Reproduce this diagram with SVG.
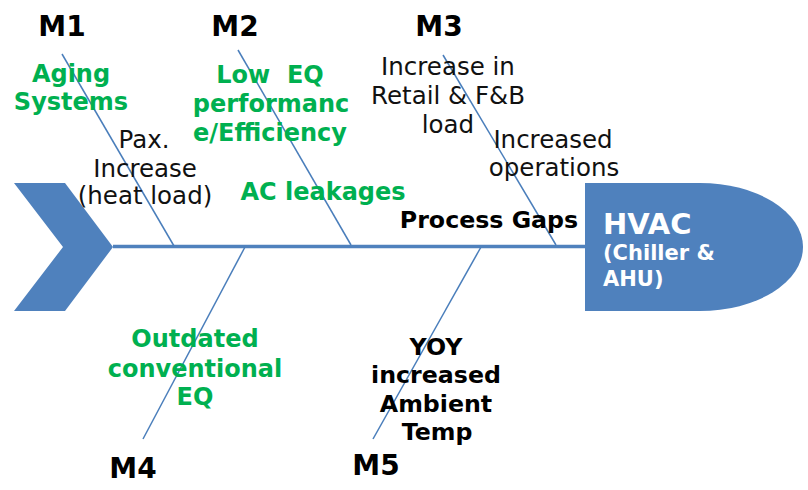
<svg xmlns="http://www.w3.org/2000/svg" width="808" height="490" viewBox="0 0 808 490">
<style>
text{font-family:"DejaVu Sans","Verdana",sans-serif;text-anchor:middle}
.m{font-size:28px;font-weight:bold;fill:#000}
.g{font-size:24px;font-weight:bold;fill:#00b050}
.k{font-size:24.5px;fill:#111}
.b{font-size:23.7px;font-weight:bold;fill:#000}
.bone{stroke:#4a7ebb;stroke-width:1.5;fill:none}
.shape{fill:#4f81bd}
.w{fill:#fff;font-weight:bold;text-anchor:start}
</style>
<rect width="808" height="490" fill="#fff"/>
<g id="connectors">
<line x1="113" y1="246.5" x2="586" y2="246.5" stroke="#4f81bd" stroke-width="3.5"/>
<line class="bone" x1="62" y1="54" x2="174" y2="246"/>
<line class="bone" x1="238" y1="50" x2="351" y2="245"/>
<line class="bone" x1="443" y1="55" x2="556" y2="245"/>
<line class="bone" x1="143" y1="439" x2="245" y2="247"/>
<line class="bone" x1="373" y1="439" x2="481" y2="247"/>
</g>
<g id="tail"><polygon class="shape" points="14,183 65,183 113,247 65,311 14,311 63,247"/></g>
<g id="head">
<path class="shape" d="M585,183 H700 A103,64 0 0 1 700,311 H585 Z"/>
<text class="w" x="603" y="234" font-size="29">HVAC</text>
<text class="w" x="603" y="260" font-size="21">(Chiller &amp;</text>
<text class="w" x="603" y="286" font-size="21">AHU)</text>
</g>
<g id="M1">
<text class="m" x="62" y="36">M1</text>
<text class="g" x="71" y="82">Aging</text>
<text class="g" x="71" y="110">Systems</text>
<text class="k" x="144" y="148">Pax.</text>
<text class="k" x="145" y="177">Increase</text>
<text class="k" x="145" y="204">(heat load)</text>
</g>
<g id="M2">
<text class="m" x="235" y="36">M2</text>
<text class="g" x="270" y="83" xml:space="preserve">Low  EQ</text>
<text class="g" x="271" y="112">performanc</text>
<text class="g" x="270" y="141">e/Efficiency</text>
<text class="g" x="323" y="200">AC leakages</text>
</g>
<g id="M3">
<text class="m" x="439" y="36">M3</text>
<text class="k" x="448" y="75">Increase in</text>
<text class="k" x="448" y="104">Retail &amp; F&amp;B</text>
<text class="k" x="448" y="133">load</text>
<text class="k" x="553" y="148">Increased</text>
<text class="k" x="554" y="176">operations</text>
<text class="b" x="489" y="228">Process Gaps</text>
</g>
<g id="M4">
<text class="m" x="133" y="478">M4</text>
<text class="g" x="195" y="347">Outdated</text>
<text class="g" x="195" y="377">conventional</text>
<text class="g" x="195" y="405">EQ</text>
</g>
<g id="M5">
<text class="m" x="376" y="475">M5</text>
<text class="b" x="436" y="355">YOY</text>
<text class="b" x="436" y="383">increased</text>
<text class="b" x="436" y="412">Ambient</text>
<text class="b" x="437" y="440">Temp</text>
</g>
</svg>
